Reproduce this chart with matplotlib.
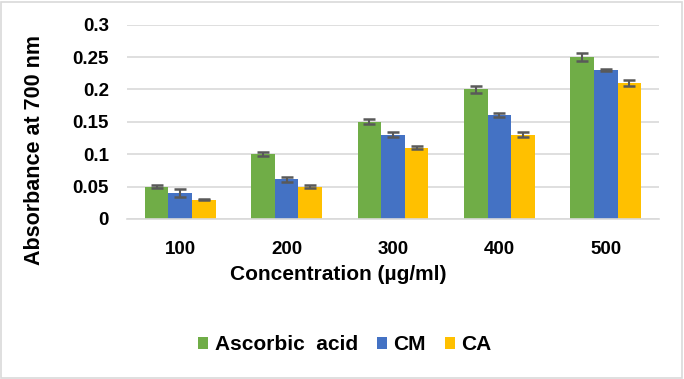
import numpy as np
import matplotlib.pyplot as plt
from matplotlib.patches import Rectangle

plt.rcParams['font.family'] = ['Liberation Sans', 'DejaVu Sans']

# ===== DATA =====
concentrations = ['100', '200', '300', '400', '500']
ascorbic = [0.05, 0.10, 0.15, 0.20, 0.25]
cm = [0.04, 0.061, 0.13, 0.16, 0.23]
ca = [0.03, 0.05, 0.11, 0.13, 0.21]
ascorbic_err = [0.002, 0.003, 0.004, 0.005, 0.006]
cm_err = [0.006, 0.004, 0.004, 0.003, 0.001]
ca_err = [0.001, 0.002, 0.002, 0.004, 0.005]

series = [
    ('Ascorbic  acid', ascorbic, ascorbic_err, '#70AD47'),
    ('CM', cm, cm_err, '#4472C4'),
    ('CA', ca, ca_err, '#FFC000'),
]

# ===== FIGURE =====
fig = plt.figure(figsize=(6.84, 3.79), dpi=100)
ax = fig.add_axes([0.1857, 0.4222, 0.7778, 0.5128])

x = np.arange(len(concentrations))
w = 1 / 4.5
for i, (name, vals, errs, col) in enumerate(series):
    pos = x + (i - 1) * w
    ax.bar(pos, vals, width=w, color=col, label=name, zorder=2)
    ax.errorbar(pos, vals, yerr=errs, fmt='none', ecolor='#595959',
                elinewidth=1.5, capsize=4, capthick=1.8, zorder=3)

ax.set_xlim(-0.5, len(concentrations) - 0.5)
ax.set_ylim(0, 0.3)
ax.set_yticks(np.arange(0, 0.31, 0.05))
ax.set_yticklabels(['0', '0.05', '0.1', '0.15', '0.2', '0.25', '0.3'])
ax.set_xticks(x)
ax.set_xticklabels(concentrations)
ax.tick_params(length=0, labelsize=13.5)
ax.tick_params(axis='y', pad=13)
ax.tick_params(axis='x', pad=16)
for lab in ax.get_xticklabels() + ax.get_yticklabels():
    lab.set_fontweight('bold')

ax.grid(axis='y', color='#D9D9D9', linewidth=1.2, zorder=0)
for s in ['top', 'right', 'left']:
    ax.spines[s].set_visible(False)
ax.spines['bottom'].set_color('#D9D9D9')
ax.spines['bottom'].set_linewidth(1.2)

fig.text(0.051, 0.604, 'Absorbance at 700 nm', rotation=90, ha='center', va='center',
         fontsize=15.5, fontweight='bold')
fig.text(0.494, 0.277, 'Concentration (µg/ml)', ha='center', va='center',
         fontsize=15, fontweight='bold')

leg = fig.legend(loc='center', bbox_to_anchor=(0.504, 0.09), ncol=3, frameon=False,
                 prop={'size': 15, 'weight': 'bold'}, handlelength=0.5, handleheight=0.5,
                 handletextpad=0.3, columnspacing=0.9)

# bordure du graphique
fig.patches.append(Rectangle((0.002, 0.003), 0.995, 0.993, transform=fig.transFigure,
                             fill=False, edgecolor='#D9D9D9', linewidth=1.2))

plt.savefig('out.png', dpi=100)
